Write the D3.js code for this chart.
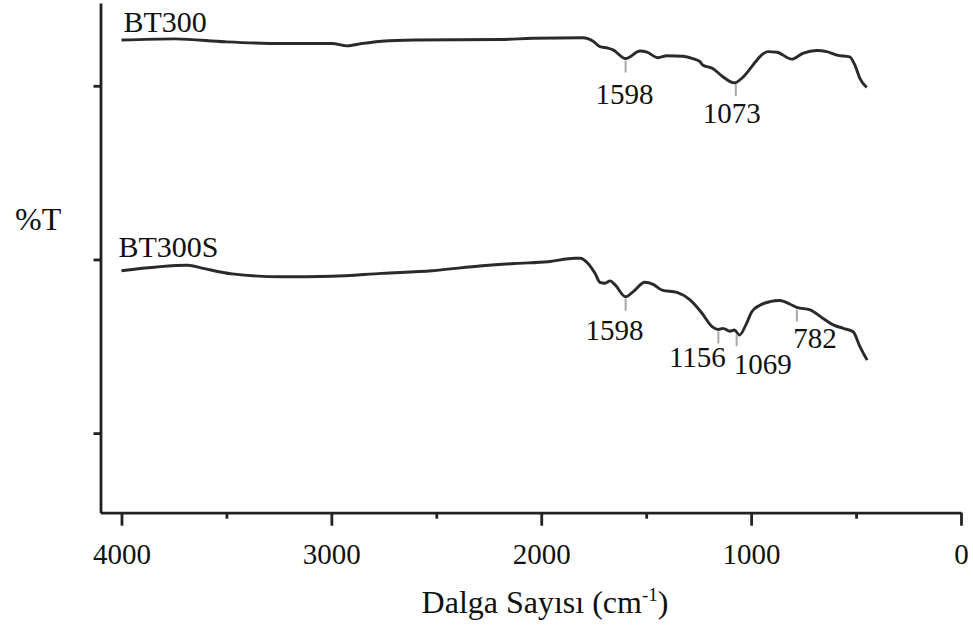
<!DOCTYPE html>
<html>
<head>
<meta charset="utf-8">
<script src="https://cdn.jsdelivr.net/npm/d3@7"></script>
<style>
  body { margin: 0; background: #fff; }
  svg text { font-family: "Liberation Serif", "Times New Roman", serif; fill: #111; }
</style>
</head>
<body>
<div id="chart"></div>
<script>
// FTIR spectra, wavenumber (cm-1) vs transmittance (arbitrary %T units)
var seriesNames = ["BT300", "BT300S"];

var bt300 = [
  [4000, 87.9], [3745, 88.1], [3507, 87.6], [3235, 87.3], [2997, 87.3], [2926, 86.9],
  [2854, 87.3], [2759, 87.7], [2602, 87.9], [2197, 88.0], [2039, 88.2], [1801, 88.3],
  [1753, 87.7], [1720, 86.75], [1682, 86.5], [1658, 86.2], [1598, 84.7], [1529, 86.0],
  [1496, 85.8], [1444, 84.85], [1401, 85.2], [1325, 85.1], [1278, 84.7], [1245, 84.2],
  [1231, 83.6], [1183, 83.0], [1136, 81.6], [1080, 80.5], [1044, 81.3], [997, 83.3],
  [959, 85.0], [921, 85.9], [877, 85.8], [806, 84.6], [754, 85.6], [687, 86.1],
  [640, 85.9], [592, 85.3], [530, 85.0], [506, 83.6], [482, 81.3], [449, 79.7]
];

var bt300s = [
  [4000, 48.05], [3683, 49.0], [3616, 48.5], [3473, 47.5], [3235, 47.0], [2997, 47.1],
  [2759, 47.6], [2520, 48.05], [2282, 48.9], [2125, 49.3], [1968, 49.6], [1839, 50.2],
  [1815, 50.2], [1777, 49.3], [1744, 47.6], [1720, 46.05], [1696, 45.9], [1672, 46.3],
  [1648, 45.6], [1598, 43.55], [1563, 44.4], [1506, 46.05], [1467, 45.7], [1424, 44.7],
  [1353, 44.3], [1291, 43.0], [1234, 40.7], [1186, 38.4], [1156, 37.9], [1134, 38.1],
  [1101, 37.6], [1080, 37.8], [1055, 36.95], [1025, 38.7], [996, 41.0], [958, 42.1],
  [911, 42.7], [863, 42.9], [816, 42.3], [782, 41.7], [719, 41.3], [657, 39.8],
  [609, 38.7], [561, 38.1], [514, 37.5], [481, 34.9], [447, 32.6]
];

// marked peaks
var peakSeries = [0, 0, 1, 1, 1, 1];
var peakWavenumbers = [1598, 1073, 1598, 1156, 1069, 782];

var xMajorTicks = [4000, 3000, 2000, 1000, 0];
var xMinorTicks = [3500, 2500, 1500, 500];
var yTicks = [20, 50, 80];

// layout
var width = 973, height = 630;
var serif = "'Liberation Serif', 'Times New Roman', serif";
var peakLabelOffset = [[-1, 45], [-4, 41], [-11, 43], [-21, 38], [26, 42], [18, 41]];
var seriesLabelOffset = [[2, -8], [-3, -14]];

var svg = d3.select("#chart").append("svg")
    .attr("width", width)
    .attr("height", height);

var x = d3.scaleLinear().domain([4100, 0]).range([100.5, 961]);
var y = d3.scaleLinear().domain([6.25, 94.3]).range([512.7, 3]);

var line = d3.line()
    .x(function(d) { return x(d[0]); })
    .y(function(d) { return y(d[1]); })
    .curve(d3.curveMonotoneX);

var allSeries = [bt300, bt300s];

// axes
var xAxis = svg.append("g")
    .attr("transform", "translate(0," + y.range()[0] + ")")
    .call(d3.axisBottom(x).tickValues(xMajorTicks).tickSize(13).tickSizeOuter(0).tickPadding(18)
        .tickFormat(d3.format("d")));
xAxis.selectAll(".tick text")
    .style("font-family", serif)
    .style("font-size", "29px")
    .style("fill", "#111");

svg.append("g")
    .attr("transform", "translate(0," + y.range()[0] + ")")
    .call(d3.axisBottom(x).tickValues(xMinorTicks).tickSize(6).tickFormat(""))
    .select(".domain").remove();

svg.append("g")
    .attr("transform", "translate(" + x.range()[0] + ",0)")
    .call(d3.axisLeft(y).tickValues(yTicks).tickSize(7).tickSizeOuter(0).tickFormat(""));

svg.selectAll(".domain, .tick line")
    .attr("stroke", "#222")
    .attr("stroke-width", 2.8);

// spectra
svg.selectAll(".spectrum")
    .data(allSeries)
    .enter().append("path")
    .attr("class", "spectrum")
    .attr("d", line)
    .attr("fill", "none")
    .attr("stroke", "#2a2a2a")
    .attr("stroke-width", 2.9)
    .attr("stroke-linejoin", "round");

// series names
svg.selectAll(".series-label")
    .data(seriesNames)
    .enter().append("text")
    .attr("class", "series-label")
    .attr("x", function(d, i) { return x(allSeries[i][0][0]) + seriesLabelOffset[i][0]; })
    .attr("y", function(d, i) { return y(allSeries[i][0][1]) + seriesLabelOffset[i][1]; })
    .style("font-size", "30px")
    .text(function(d) { return d; });

// value of a spectrum at a wavenumber (points are in descending order)
function valueAt(pts, w) {
  for (var i = 0; i < pts.length - 1; i++) {
    if (pts[i][0] >= w && pts[i + 1][0] <= w) {
      var t = (pts[i][0] - w) / (pts[i][0] - pts[i + 1][0]);
      return pts[i][1] + t * (pts[i + 1][1] - pts[i][1]);
    }
  }
  return pts[pts.length - 1][1];
}

var peaks = peakWavenumbers.map(function(w, i) {
  return { w: w, s: peakSeries[i], v: valueAt(allSeries[peakSeries[i]], w), i: i };
});

svg.selectAll(".peak-tick")
    .data(peaks)
    .enter().append("line")
    .attr("class", "peak-tick")
    .attr("x1", function(d) { return x(d.w); })
    .attr("x2", function(d) { return x(d.w); })
    .attr("y1", function(d) { return y(d.v) + 2; })
    .attr("y2", function(d) { return y(d.v) + 14; })
    .attr("stroke", "#a8a8a8")
    .attr("stroke-width", 2);

svg.selectAll(".peak-label")
    .data(peaks)
    .enter().append("text")
    .attr("class", "peak-label")
    .attr("x", function(d) { return x(d.w) + peakLabelOffset[d.i][0]; })
    .attr("y", function(d) { return y(d.v) + peakLabelOffset[d.i][1]; })
    .attr("text-anchor", "middle")
    .style("font-size", "29px")
    .text(function(d) { return d.w; });

// axis titles
svg.append("text")
    .attr("x", 15)
    .attr("y", 230)
    .style("font-size", "32px")
    .text("%T");

var xTitle = svg.append("text")
    .attr("x", 545)
    .attr("y", 613)
    .attr("text-anchor", "middle")
    .style("font-size", "32px");
xTitle.append("tspan").text("Dalga Sayısı (cm");
xTitle.append("tspan").attr("dy", -12).style("font-size", "19px").text("-1");
xTitle.append("tspan").attr("dy", 12).text(")");
</script>
</body>
</html>
